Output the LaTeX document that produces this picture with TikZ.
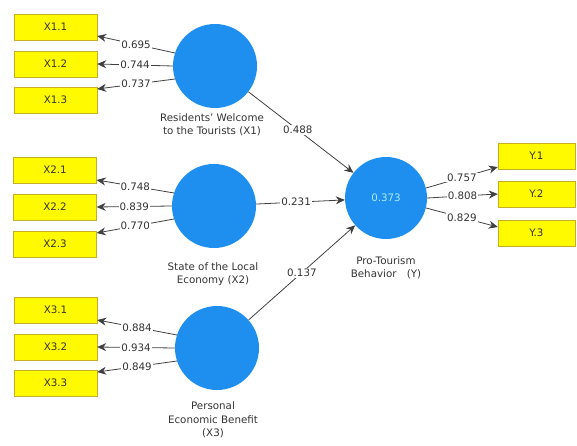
\documentclass[tikz,border=0pt]{standalone}
\usepackage{fontspec}
\setmainfont{DejaVu Sans}
\usepackage{tikz}
\usetikzlibrary{arrows.meta}
\definecolor{latentblue}{RGB}{30,143,238}
\definecolor{boxfill}{RGB}{255,250,0}
\definecolor{boxedge}{RGB}{196,176,40}
\definecolor{rsquare}{RGB}{175,235,255}

\begin{document}
\begin{tikzpicture}[x=1pt, y=-1pt, every node/.style={font=\fontsize{10.3}{13.5}\selectfont}]
    \tikzstyle{indicator} = [rectangle, draw=boxedge, fill=boxfill, minimum width=83pt, minimum height=26pt, inner sep=0pt, text=black!80]
    \tikzstyle{construct} = [circle, fill=latentblue, minimum size=84pt, inner sep=0pt]
    \tikzstyle{arrow} = [-{Stealth[length=9pt, width=8pt]}, draw=black!75, line width=0.8pt]
    \tikzstyle{weight} = [fill=white, inner sep=1pt, text=black!80]
    \tikzstyle{caption} = [align=center, text=black!80]
    \useasboundingbox (0,0) rectangle (577,446);

    % indicators
    \node[indicator] (X11) at (55.5,27) {X1.1};
    \node[indicator] (X12) at (55.5,64) {X1.2};
    \node[indicator] (X13) at (55.5,100) {X1.3};
    \node[indicator] (X21) at (55,170) {X2.1};
    \node[indicator] (X22) at (55,207) {X2.2};
    \node[indicator] (X23) at (55,244) {X2.3};
    \node[indicator] (X31) at (55.5,310) {X3.1};
    \node[indicator] (X32) at (55.5,347) {X3.2};
    \node[indicator] (X33) at (55.5,383) {X3.3};
    \node[indicator, minimum width=77pt] (Y1) at (536.5,156) {Y.1};
    \node[indicator, minimum width=77pt] (Y2) at (536.5,194) {Y.2};
    \node[indicator, minimum width=77pt] (Y3) at (536.5,233) {Y.3};

    % constructs
    \node[construct] (X1) at (215,66) {};
    \node[construct] (X2) at (214,206) {};
    \node[construct] (X3) at (217,348) {};
    \node[construct, minimum size=82pt, text=rsquare] (Y) at (386,198) {0.373};

    \node[caption] (capX1) at (212,125) {Residents' Welcome\\to the Tourists (X1)};
    \node[caption] (capX2) at (213,274) {State of the Local\\Economy (X2)};
    \node[caption] (capX3) at (213,420) {Personal\\Economic Benefit\\(X3)};
    \node[caption] (capY) at (386,268) {Pro-Tourism\\Behavior\quad(Y)};

    % outer loadings
    \draw[arrow] (X1.162) -- node[weight] {0.695} ([yshift=-9pt]X11.east);
    \draw[arrow] (X1.180) -- node[weight] {0.744} (X12.east);
    \draw[arrow] (X1.198) -- node[weight] {0.737} ([yshift=11pt]X13.east);
    \draw[arrow] (X2.162) -- node[weight] {0.748} ([yshift=-10pt]X21.east);
    \draw[arrow] (X2.180) -- node[weight] {0.839} (X22.east);
    \draw[arrow] (X2.198) -- node[weight] {0.770} ([yshift=11pt]X23.east);
    \draw[arrow] (X3.162) -- node[weight] {0.884} ([yshift=-10pt]X31.east);
    \draw[arrow] (X3.180) -- node[weight] {0.934} (X32.east);
    \draw[arrow] (X3.198) -- node[weight] {0.849} ([yshift=11pt]X33.east);
    \draw[arrow] (Y.14) -- node[weight] {0.757} ([yshift=-11pt]Y1.west);
    \draw[arrow] (Y.0) -- node[weight] {0.808} (Y2.west);
    \draw[arrow] (Y.-14) -- node[weight] {0.829} ([yshift=6pt]Y3.west);

    % path coefficients
    \draw[arrow] (X1) -- node[weight, pos=0.47] {0.488} (Y);
    \draw[arrow] (X2) -- node[weight, pos=0.45] {0.231} (Y);
    \draw[arrow] (X3) -- node[weight, pos=0.5] {0.137} (Y);
\end{tikzpicture}
\end{document}
